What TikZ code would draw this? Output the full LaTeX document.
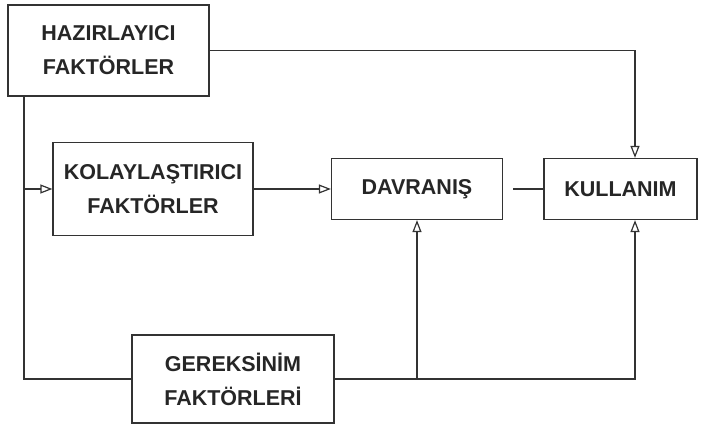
\documentclass[tikz,border=0pt]{standalone}
\usepackage{fontspec}
\setmainfont{Liberation Sans}
\usetikzlibrary{arrows.meta}
\begin{document}
\begin{tikzpicture}[x=1pt,y=-1pt,
  box/.style={draw=black!80, line width=1.3pt, align=center, inner sep=0pt,
    font=\fontsize{21.5}{34}\selectfont\bfseries, text=black!85},
  ln/.style={draw=black!80, line width=1.3pt},
  arr/.style={ln, -{Triangle[open, length=12pt, width=9pt, line width=1.2pt]}}]
\useasboundingbox (0,0) rectangle (705,425);
\node[box, minimum width=201pt, minimum height=91pt] (H) at (108.5,50.5) {HAZIRLAYICI\\FAKTÖRLER};
\node[box, minimum width=200pt, minimum height=93pt] (K) at (153,189) {KOLAYLAŞTIRICI\\FAKTÖRLER};
\node[box, minimum width=171pt, minimum height=61pt] (D) at (417,189) {DAVRANIŞ};
\node[box, minimum width=153pt, minimum height=61pt] (U) at (620.5,189) {KULLANIM};
\node[box, minimum width=202pt, minimum height=88pt] (G) at (233,379) {GEREKSİNİM\\FAKTÖRLERİ};
\coordinate (lx) at (24,0);
\coordinate (kx) at (635,0);
\coordinate (dg) at (513,189);
% left line
\draw[ln] (H.south -| lx) |- (G.west);
\draw[arr] (K.west -| lx) -- (K.west);
% top line
\draw[arr] (H.east) -| (U.north -| kx);
% middle
\draw[arr] (K.east) -- (D.west);
\draw[ln] (dg) -- (U.west);
% bottom
\draw[arr] (G.east) -| (U.south -| kx);
\draw[arr] (G.east -| D.south) -- (D.south);
\end{tikzpicture}
\end{document}
